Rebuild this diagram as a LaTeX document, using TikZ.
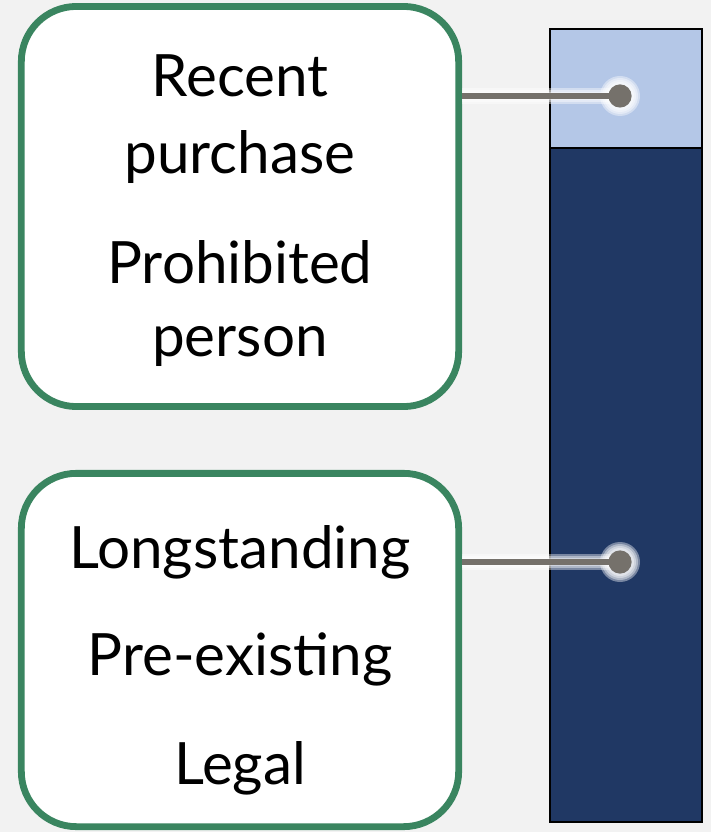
\documentclass[tikz,border=0pt]{standalone}
\usepackage{fontspec}
\setmainfont{Lato}
\definecolor{bggray}{HTML}{F2F2F2}
\definecolor{boxgreen}{HTML}{3A8560}
\definecolor{lightbar}{HTML}{B4C7E7}
\definecolor{darkbar}{HTML}{203864}
\definecolor{pingray}{HTML}{75716B}
\tikzset{
  labelbox/.style={draw=boxgreen, line width=0.17cm, fill=white, rounded corners=1.375cm, minimum width=10.93cm},
  labeltext/.style={anchor=base, font=\fontsize{41.5}{44}\selectfont},
  barseg/.style={draw=black, line width=0.06cm, minimum width=3.8cm, inner sep=0pt},
  pin/.style={circle, fill=pingray, minimum size=0.58cm, inner sep=0pt},
}
\begin{document}
\begin{tikzpicture}[x=0.025cm,y=-0.025cm]
\fill[bggray] (0,0) rectangle (711,832);
\useasboundingbox (0,0) rectangle (711,832);
% bar
\node[barseg, fill=lightbar, minimum height=2.975cm] (recentseg) at (626,88.5){};
\node[barseg, fill=darkbar, minimum height=16.85cm] (oldseg) at (626,485){};
% boxes
\node[labelbox, minimum height=10.0cm] (topbox) at (240,206.5){};
\node[labelbox, minimum height=8.83cm] (lowbox) at (240,650){};
\node[labeltext] (t1) at (240,97){Recent};
\node[labeltext] (t2) at (240,174){purchase};
\node[labeltext] (t3) at (240,284){Prohibited};
\node[labeltext] (t4) at (240,357){person};
\node[labeltext] (t5) at (240,568){Longstanding};
\node[labeltext] (t6) at (240,675){Pre-existing};
\node[labeltext] (t7) at (240,784){Legal};
% pins with soft glow
\coordinate (p1) at (620,96);
\coordinate (p2) at (620,562);
\foreach \p/\b in {p1/topbox, p2/lowbox}{
  \foreach \r in {20,18,16,14}{
    \draw[white, opacity=0.4, line width=(\r-12)*0.05cm] (\b.east |- \p) -- (\p);
    \fill[white, opacity=0.4] (\p) circle (\r);
  }
  \draw[pingray, line width=0.15cm] (\b.east |- \p) -- (\p);
  \node[pin] (\p pin) at (\p){};
}
\end{tikzpicture}
\end{document}
